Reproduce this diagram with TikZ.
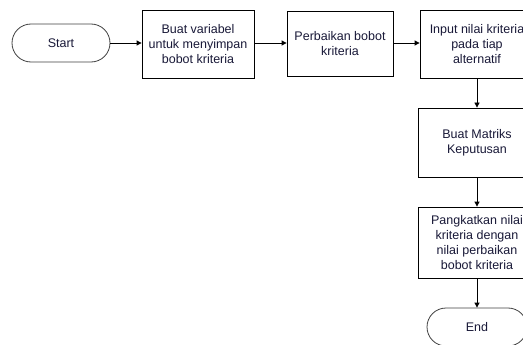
\documentclass[tikz,border=0pt]{standalone}
\usepackage{fontspec}
\setmainfont{Liberation Sans}
\usetikzlibrary{arrows.meta,shapes.misc,shadows}
\definecolor{txt}{rgb}{0.1,0.1,0.22}
\begin{document}
\begin{tikzpicture}[x=1pt,y=-1pt,
  every node/.style={font=\fontsize{12.5}{15}\selectfont, text=txt, align=center, inner sep=0pt},
  procbox/.style={draw=black, line width=0.8pt, fill=white, rectangle,
    general shadow={shadow xshift=1pt, shadow yshift=-1.2pt, fill=black!15}},
  termbox/.style={draw=black!75, line width=0.8pt, fill=white, rounded rectangle},
  flow/.style={draw=black, line width=0.8pt, -{Triangle[length=5pt,width=5pt]}}
]
\useasboundingbox (0,0) rectangle (523,345);
\node[termbox, minimum width=98pt, minimum height=38pt] (start) at (61,43) {Start};
\node[procbox, minimum width=112pt, minimum height=68pt] (b1) at (198,44) {Buat variabel\\untuk menyimpan\\bobot kriteria};
\node[procbox, minimum width=106pt, minimum height=65pt] (b2) at (340,43.5) {Perbaikan bobot\\kriteria};
\node[procbox, minimum width=114pt, minimum height=68pt] (b3) at (477,44) {Input nilai kriteria\\pada tiap\\alternatif};
\node[procbox, minimum width=118pt, minimum height=69pt] (b4) at (477,142.5) {Buat Matriks\\Keputusan};
\node[procbox, minimum width=118pt, minimum height=71pt] (b5) at (477,242.5) {Pangkatkan nilai\\kriteria dengan\\nilai perbaikan\\bobot kriteria};
\node[termbox, minimum width=100pt, minimum height=38pt] (end) at (477,327) {End};
\draw[flow] (start.east) -- (start.east -| b1.west);
\draw[flow] (b1.east |- start.east) -- (start.east -| b2.west);
\draw[flow] (b2.east |- start.east) -- (start.east -| b3.west);
\draw[flow] (b3.south) -- (b4.north);
\draw[flow] (b4.south) -- (b5.north);
\draw[flow] (b5.south) -- (end.north);
\end{tikzpicture}
\end{document}
